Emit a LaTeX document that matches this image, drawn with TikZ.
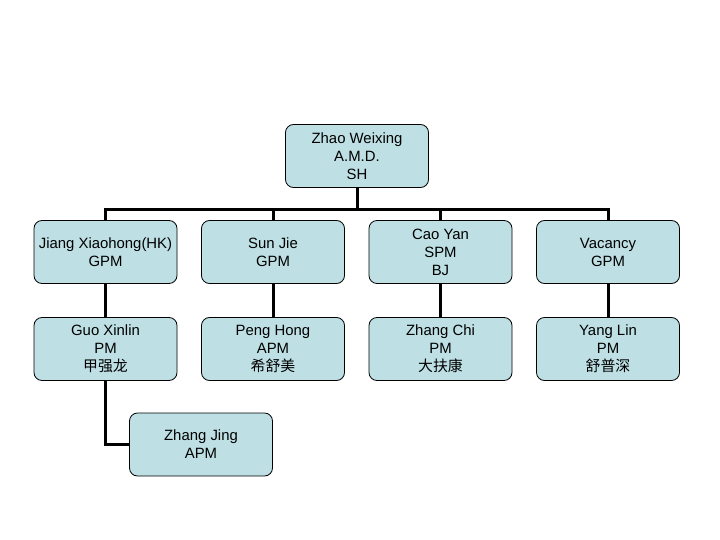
\documentclass[tikz,border=0pt]{standalone}
\usepackage{fontspec}
\setmainfont{Liberation Sans}
\newfontfamily\cjk{Noto Sans CJK SC}
\definecolor{boxfill}{RGB}{190,224,228}
\begin{document}
\begin{tikzpicture}[x=1pt,y=-1pt,
  box/.style={draw=black, line width=0.8pt, fill=boxfill, rounded corners=8pt,
    minimum width=143pt, minimum height=63pt, align=center, inner sep=2pt,
    font=\fontsize{14.9}{18}\selectfont},
  conn/.style={draw=black, line width=3pt}]
\useasboundingbox (0,0) rectangle (720,540);
\node[box] (top) at (357,156) {Zhao Weixing\\A.M.D.\\SH};
\node[box] (n1) at (105.5,252) {Jiang Xiaohong(HK)\\GPM};
\node[box] (n2) at (273,252) {Sun Jie\\GPM};
\node[box] (n3) at (440.5,252) {Cao Yan\\SPM\\BJ};
\node[box] (n4) at (608,252) {Vacancy\\GPM};
\node[box] (m1) at (105.5,349) {Guo Xinlin\\PM\\{\cjk 甲强龙}};
\node[box] (m2) at (273,349) {Peng Hong\\APM\\{\cjk 希舒美}};
\node[box] (m3) at (440.5,349) {Zhang Chi\\PM\\{\cjk 大扶康}};
\node[box] (m4) at (608,349) {Yang Lin\\PM\\{\cjk 舒普深}};
\node[box] (zj) at (201,444.5) {Zhang Jing\\APM};
\coordinate (bus) at (357,210);
\draw[conn] (top.south) -- (bus);
\draw[conn] (n1.north) |- (bus) -| (n4.north);
\draw[conn] (n2.north) -- (n2.north |- bus);
\draw[conn] (n3.north) -- (n3.north |- bus);
\draw[conn] (n1.south) -- (m1.north);
\draw[conn] (n2.south) -- (m2.north);
\draw[conn] (n3.south) -- (m3.north);
\draw[conn] (n4.south) -- (m4.north);
\draw[conn] (m1.south) |- (zj.west);
\end{tikzpicture}
\end{document}
